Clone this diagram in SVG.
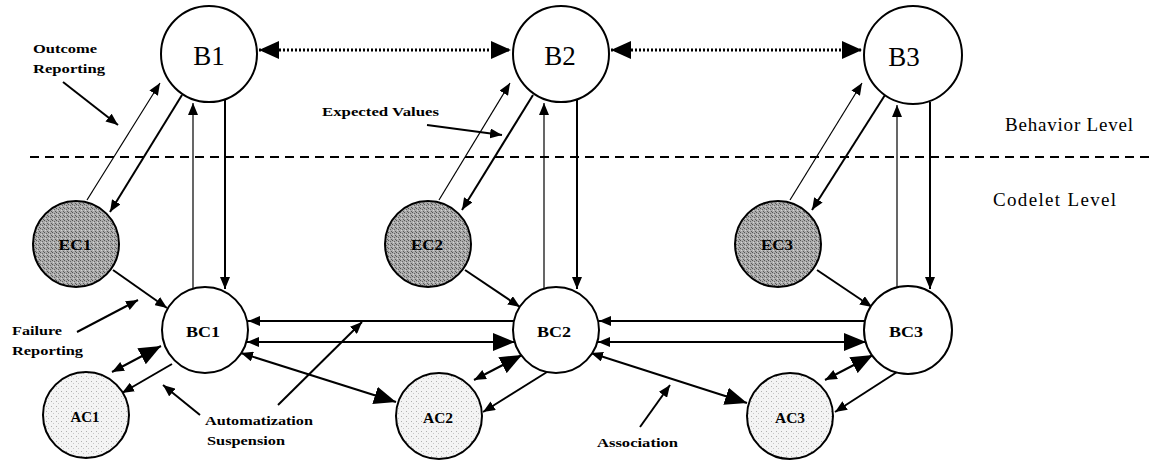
<svg xmlns="http://www.w3.org/2000/svg" width="1152" height="460" viewBox="0 0 1152 460">
  <defs>
    <style>
      .node { stroke: #000; stroke-width: 2; }
      .beh { fill: #fff; }
      .exp { fill: url(#stippleDark); }
      .bcd { fill: #fff; }
      .act { fill: url(#stippleLight); }
      .big { font-family: "Liberation Serif", serif; font-size: 27px; fill: #000; text-anchor: middle; }
      .lbl { font-family: "Liberation Serif", serif; font-weight: bold; font-size: 15px; fill: #000; text-anchor: middle; }
      .note { font-family: "Liberation Serif", serif; font-weight: bold; font-size: 13px; fill: #000; }
      .lvl { font-family: "Liberation Serif", serif; font-size: 19px; fill: #000; }
      .thin { stroke: #000; stroke-width: 1.2; fill: none; }
      .thick { stroke: #000; stroke-width: 2; fill: none; }
      .dot { stroke: #000; stroke-width: 3; stroke-dasharray: 2 2; fill: none; }
      .dash { stroke: #000; stroke-width: 2; stroke-dasharray: 9 6; fill: none; }
    </style>
    <pattern id="stippleDark" width="4" height="4" patternUnits="userSpaceOnUse">
      <rect width="4" height="4" fill="#acacac"/>
      <rect x="0" y="0" width="1" height="1" fill="#555"/>
      <rect x="2" y="1" width="1" height="1" fill="#666"/>
      <rect x="1" y="2" width="1" height="1" fill="#d4d4d4"/>
      <rect x="3" y="3" width="1" height="1" fill="#5c5c5c"/>
    </pattern>
    <pattern id="stippleLight" width="5" height="5" patternUnits="userSpaceOnUse">
      <rect width="5" height="5" fill="#f4f4f4"/>
      <rect x="1" y="1" width="1" height="1" fill="#b0b0b0"/>
      <rect x="3" y="3" width="1" height="1" fill="#c8c8c8"/>
    </pattern>
    <marker id="ah" viewBox="0 0 12 10" refX="12" refY="5" markerWidth="12" markerHeight="10" markerUnits="userSpaceOnUse" orient="auto-start-reverse">
      <path d="M0,0 L12,5 L0,10 z" fill="#000"/>
    </marker>
    <marker id="ahBig" viewBox="0 0 22 18" refX="22" refY="9" markerWidth="22" markerHeight="18" markerUnits="userSpaceOnUse" orient="auto-start-reverse">
      <path d="M0,0 L22,9 L0,18 z" fill="#000"/>
    </marker>
    <marker id="ahDot" viewBox="0 0 20 18" refX="20" refY="9" markerWidth="20" markerHeight="18" markerUnits="userSpaceOnUse" orient="auto-start-reverse">
      <path d="M0,0 L20,9 L0,18 z" fill="#000"/>
    </marker>
  </defs>

  <rect width="1152" height="460" fill="#fff"/>

  <!-- level divider and level captions -->
  <g id="levels">
    <line class="dash" x1="30" y1="157" x2="1152" y2="157"/>
    <text class="lvl" x="1005" y="131" textLength="128" lengthAdjust="spacing">Behavior Level</text>
    <text class="lvl" x="993" y="206" textLength="123" lengthAdjust="spacing">Codelet Level</text>
  </g>

  <!-- connectors -->
  <g id="connectors">
    <!-- behaviour links -->
    <line class="dot" x1="259" y1="50" x2="511" y2="50" marker-start="url(#ahDot)" marker-end="url(#ahDot)"/>
    <line class="dot" x1="611" y1="50" x2="862" y2="50" marker-start="url(#ahDot)" marker-end="url(#ahDot)"/>

    <!-- column 1 -->
    <line class="thin" x1="87" y1="200" x2="160" y2="83" marker-end="url(#ah)"/>
    <line class="thick" x1="182" y1="95" x2="110" y2="212" marker-end="url(#ah)"/>
    <line class="thin" x1="193" y1="289" x2="193" y2="103" marker-end="url(#ah)"/>
    <line class="thick" x1="225" y1="100" x2="225" y2="289" marker-end="url(#ah)"/>
    <line class="thick" x1="113" y1="270" x2="167" y2="308" marker-end="url(#ah)"/>

    <!-- column 2 -->
    <line class="thin" x1="439" y1="200" x2="510" y2="83" marker-end="url(#ah)"/>
    <line class="thick" x1="533" y1="95" x2="462" y2="210" marker-end="url(#ah)"/>
    <line class="thin" x1="544" y1="289" x2="544" y2="103" marker-end="url(#ah)"/>
    <line class="thick" x1="577" y1="100" x2="577" y2="289" marker-end="url(#ah)"/>
    <line class="thick" x1="465" y1="270" x2="520" y2="307" marker-end="url(#ah)"/>

    <!-- column 3 -->
    <line class="thin" x1="790" y1="200" x2="862" y2="83" marker-end="url(#ah)"/>
    <line class="thick" x1="885" y1="95" x2="812" y2="210" marker-end="url(#ah)"/>
    <line class="thin" x1="897" y1="289" x2="897" y2="105" marker-end="url(#ah)"/>
    <line class="thick" x1="930" y1="102" x2="930" y2="289" marker-end="url(#ah)"/>
    <line class="thick" x1="817" y1="270" x2="872" y2="307" marker-end="url(#ah)"/>

    <!-- codelet chain -->
    <line class="thick" x1="248" y1="321" x2="514" y2="321" marker-start="url(#ah)"/>
    <line class="thick" x1="247" y1="342" x2="515" y2="342" marker-start="url(#ah)" marker-end="url(#ahBig)"/>
    <line class="thick" x1="599" y1="321" x2="865" y2="321" marker-start="url(#ah)"/>
    <line class="thick" x1="598" y1="342" x2="866" y2="342" marker-start="url(#ah)" marker-end="url(#ahBig)"/>

    <!-- associations -->
    <line class="thick" x1="241" y1="353" x2="396" y2="402" marker-start="url(#ah)" marker-end="url(#ahBig)"/>
    <line class="thick" x1="591" y1="353" x2="747" y2="403" marker-start="url(#ah)" marker-end="url(#ahBig)"/>

    <!-- BC / AC pairs -->
    <line class="thick" x1="112" y1="372" x2="161" y2="346" marker-start="url(#ah)" marker-end="url(#ahBig)"/>
    <line class="thick" x1="172" y1="364" x2="122" y2="393" marker-end="url(#ah)"/>
    <line class="thick" x1="474" y1="380" x2="522" y2="355" marker-start="url(#ah)" marker-end="url(#ahBig)"/>
    <line class="thick" x1="547" y1="372" x2="483" y2="412" marker-end="url(#ah)"/>
    <line class="thick" x1="825" y1="380" x2="873" y2="355" marker-start="url(#ah)" marker-end="url(#ahBig)"/>
    <line class="thick" x1="897" y1="372" x2="835" y2="412" marker-end="url(#ah)"/>

    <!-- callout pointers -->
    <line class="thick" x1="63" y1="82" x2="118" y2="125" marker-end="url(#ah)"/>
    <line class="thick" x1="427" y1="125" x2="502" y2="135" marker-end="url(#ah)"/>
    <line class="thick" x1="77" y1="332" x2="138" y2="300" marker-end="url(#ah)"/>
    <line class="thick" x1="200" y1="415" x2="163" y2="385" marker-end="url(#ah)"/>
    <line class="thick" x1="278" y1="405" x2="362" y2="322" marker-end="url(#ah)"/>
    <line class="thick" x1="640" y1="427" x2="670" y2="385" marker-end="url(#ah)"/>
  </g>

  <!-- behaviour nodes -->
  <g id="B1"><circle class="node beh" cx="209" cy="54" r="48"/><text class="big" x="209" y="65">B1</text></g>
  <g id="B2"><circle class="node beh" cx="561" cy="54" r="48"/><text class="big" x="560" y="65">B2</text></g>
  <g id="B3"><circle class="node beh" cx="913" cy="55" r="49"/><text class="big" x="904" y="66">B3</text></g>

  <!-- expectation codelets -->
  <g id="EC1"><circle class="node exp" cx="76" cy="244" r="43"/><text class="lbl" x="75" y="250" textLength="33" lengthAdjust="spacingAndGlyphs">EC1</text></g>
  <g id="EC2"><circle class="node exp" cx="428" cy="244" r="43"/><text class="lbl" x="427" y="250" textLength="32" lengthAdjust="spacingAndGlyphs">EC2</text></g>
  <g id="EC3"><circle class="node exp" cx="778" cy="244" r="43"/><text class="lbl" x="777" y="250" textLength="32" lengthAdjust="spacingAndGlyphs">EC3</text></g>

  <!-- behaviour codelets -->
  <g id="BC1"><circle class="node bcd" cx="205" cy="330" r="43"/><text class="lbl" x="203" y="337" textLength="34" lengthAdjust="spacingAndGlyphs">BC1</text></g>
  <g id="BC2"><circle class="node bcd" cx="556" cy="330" r="43"/><text class="lbl" x="554" y="337" textLength="34" lengthAdjust="spacingAndGlyphs">BC2</text></g>
  <g id="BC3"><circle class="node bcd" cx="908" cy="330" r="44"/><text class="lbl" x="906" y="337" textLength="34" lengthAdjust="spacingAndGlyphs">BC3</text></g>

  <!-- attention codelets -->
  <g id="AC1"><circle class="node act" cx="86" cy="415" r="43"/><text class="lbl" x="85" y="422" textLength="29" lengthAdjust="spacingAndGlyphs">AC1</text></g>
  <g id="AC2"><circle class="node act" cx="439" cy="416" r="43"/><text class="lbl" x="438" y="423" textLength="30" lengthAdjust="spacingAndGlyphs">AC2</text></g>
  <g id="AC3"><circle class="node act" cx="790" cy="416" r="43"/><text class="lbl" x="790" y="423" textLength="30" lengthAdjust="spacingAndGlyphs">AC3</text></g>

  <!-- callout captions -->
  <g id="notes">
    <text class="note" x="33" y="53" textLength="64" lengthAdjust="spacingAndGlyphs">Outcome</text>
    <text class="note" x="33" y="73" textLength="72" lengthAdjust="spacingAndGlyphs">Reporting</text>
    <text class="note" x="322" y="116" textLength="117" lengthAdjust="spacingAndGlyphs">Expected Values</text>
    <text class="note" x="12" y="335" textLength="50" lengthAdjust="spacingAndGlyphs">Failure</text>
    <text class="note" x="12" y="355" textLength="71" lengthAdjust="spacingAndGlyphs">Reporting</text>
    <text class="note" x="205" y="425" textLength="108" lengthAdjust="spacingAndGlyphs">Automatization</text>
    <text class="note" x="207" y="445" textLength="78" lengthAdjust="spacingAndGlyphs">Suspension</text>
    <text class="note" x="597" y="447" textLength="81" lengthAdjust="spacingAndGlyphs">Association</text>
  </g>
</svg>
